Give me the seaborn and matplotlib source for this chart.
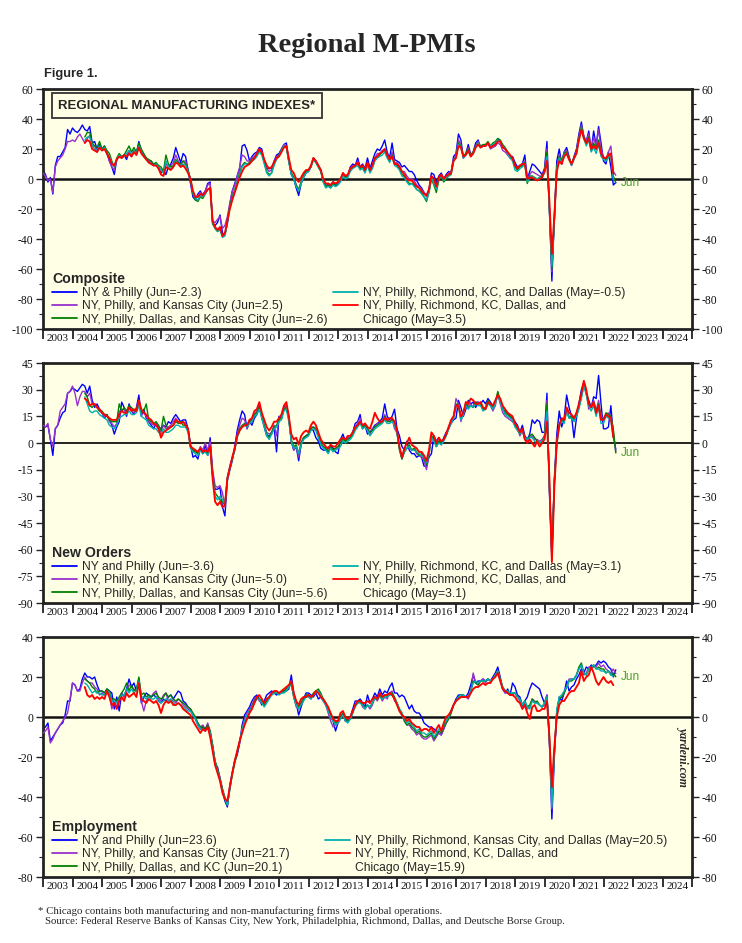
import numpy as np
import pandas as pd
import matplotlib
matplotlib.use("Agg")
import matplotlib.pyplot as plt
import seaborn as sns
from matplotlib.lines import Line2D
from matplotlib.ticker import MultipleLocator, FixedLocator, FixedFormatter

# ---------------- DATA (monthly) ----------------
# series 1/2 start Jan 2003, series 3 start Jun 2004 (end Jun 2022), series 4/5 start Jun 2004 (end May 2022)
SERIES_NAMES = ["NY & Philly", "NY, Philly, KC", "NY, Philly, Dallas, KC",
                "NY, Philly, Richmond, KC, Dallas", "NY, Philly, Richmond, KC, Dallas, Chicago"]
SERIES_COLORS = ["#0000ff", "#9932cc", "#008000", "#00b0b0", "#ff0000"]
START = [(2003, 1), (2003, 1), (2004, 6), (2004, 6), (2004, 6)]

comp_blue = [
    6, 3, -2, 1, -10, 9, 15, 15, 18, 21, 33, 30,
    34, 32, 31, 33, 36, 33, 32, 35, 24, 25, 20, 23,
    20, 22, 17, 12, 8, 3, 13, 16, 14, 16, 13, 18,
    15, 19, 17, 25, 18, 16, 14, 12, 12, 9, 10, 7,
    4, 6, 3, 8, 10, 14, 21, 16, 11, 17, 15, 6,
    -3, -12, -14, -10, -8, -11, -8, -3, -2, -30, -31, -29,
    -24, -36, -37, -30, -17, -8, -3, 2, 7, 22, 23, 19,
    12, 15, 17, 18, 21, 20, 12, 7, 7, 7, 12, 16,
    17, 20, 23, 24, 12, 3, 0, -6, -11, -3, 1, 4,
    5, 8, 14, 12, 9, 6, -1, -5, -3, -4, -2, -5,
    -3, -1, 4, 2, 2, 8, 10, 9, 14, 8, 10, 7,
    14, 7, 12, 17, 20, 19, 22, 26, 18, 14, 24, 13,
    12, 11, 8, 9, 7, 5, 5, 3, -1, -4, -6, -9,
    -11, -7, 4, 3, -3, 2, 4, 0, 3, 5, 4, 15,
    17, 30, 26, 14, 17, 23, 16, 18, 24, 26, 21, 22,
    22, 24, 21, 23, 22, 27, 25, 22, 20, 17, 14, 15,
    11, 8, 9, 10, 16, 0, 5, 10, 9, 7, 5, 3,
    7, 25, -20, -68, -25, 12, 20, 10, 18, 21, 15, 9,
    15, 20, 30, 38, 28, 25, 32, 19, 32, 22, 35, 24,
    12, 10, 18, 8, -4, -2.3,
]
comp_purple = [
    4, 2, -1, 0, -9, 8, 12, 14, 16, 20, 25, 25,
    26, 25, 28, 30, 27, 24, 27, 29, 22, 22, 18, 21,
    19, 21, 18, 12, 8, 6, 13, 16, 14, 16, 15, 19,
    16, 19, 17, 23, 18, 16, 13, 12, 11, 9, 10, 8,
    6, 5, 10, 8, 9, 11, 16, 12, 9, 12, 12, 6,
    -2, -10, -12, -11, -9, -10, -8, -4, -3, -28, -29, -27,
    -25, -33, -31, -25, -16, -8, -4, 2, 8, 16, 15, 12,
    12, 14, 15, 17, 20, 18, 12, 7, 5, 6, 11, 15,
    16, 19, 23, 22, 12, 4, 1, -4, -8, -2, 2, 5,
    6, 9, 14, 12, 9, 6, -1, -4, -4, -5, -3, -4,
    -3, -1, 3, 1, 2, 7, 9, 9, 12, 7, 9, 6,
    11, 6, 9, 14, 17, 17, 19, 20, 17, 13, 18, 11,
    11, 9, 5, 5, 2, 0, 0, -1, -4, -5, -7, -9,
    -12, -8, 2, 0, -5, 0, 3, 0, 2, 4, 4, 13,
    16, 26, 23, 14, 17, 21, 15, 18, 22, 25, 21, 22,
    22, 24, 20, 21, 22, 24, 23, 19, 18, 16, 14, 13,
    9, 7, 9, 10, 12, 0, 3, 5, 4, 3, 2, 2,
    6, 20, -22, -62, -28, 8, 16, 12, 18, 19, 14, 10,
    14, 19, 28, 36, 29, 25, 30, 19, 28, 22, 33, 20,
    15, 13, 18, 22, 5, 2.5,
]
comp_green = [
    28, 31, 31, 24, 22, 21, 25,
    20, 22, 19, 17, 12, 8, 14, 17, 15, 16, 19, 22,
    18, 21, 18, 24, 20, 17, 14, 13, 12, 10, 11, 9,
    8, 5, 16, 10, 8, 9, 13, 11, 10, 12, 10, 6,
    0, -10, -14, -15, -12, -13, -10, -7, -6, -30, -33, -35,
    -33, -38, -37, -28, -18, -12, -7, -2, 4, 9, 11, 10,
    11, 13, 14, 16, 19, 17, 11, 5, 3, 4, 10, 14,
    16, 19, 22, 21, 12, 4, 1, -4, -7, -2, 2, 5,
    6, 8, 13, 11, 8, 5, -2, -5, -4, -6, -3, -4,
    -2, 0, 3, 1, 2, 6, 8, 9, 10, 7, 8, 5,
    10, 5, 8, 13, 15, 16, 18, 19, 15, 12, 16, 10,
    9, 7, 3, 2, -1, -3, -3, -4, -7, -8, -9, -12,
    -15, -9, 0, -4, -9, -1, 2, -2, 0, 2, 3, 12,
    15, 24, 22, 15, 17, 20, 16, 18, 22, 24, 22, 23,
    23, 25, 22, 24, 25, 27, 26, 23, 21, 18, 15, 13,
    8, 6, 8, 9, 11, -3, 2, 2, 1, 0, 1, 2,
    5, 18, -20, -60, -28, 8, 15, 12, 17, 18, 14, 10,
    14, 18, 27, 35, 28, 24, 28, 19, 24, 20, 26, 17,
    14, 13, 15, 17, 2, -2.6,
]
comp_cyan = [
    26, 28, 28, 22, 20, 19, 22,
    19, 21, 17, 15, 11, 8, 13, 16, 14, 15, 17, 19,
    16, 19, 17, 22, 18, 15, 13, 11, 10, 9, 10, 8,
    6, 4, 12, 8, 7, 8, 12, 10, 9, 10, 9, 5,
    0, -9, -13, -14, -11, -12, -10, -7, -6, -29, -33, -35,
    -34, -39, -38, -29, -19, -13, -8, -3, 3, 8, 10, 10,
    10, 12, 13, 15, 18, 16, 10, 4, 2, 4, 9, 13,
    15, 19, 22, 21, 11, 3, 0, -5, -8, -3, 1, 4,
    5, 8, 13, 11, 8, 5, -2, -6, -5, -6, -4, -5,
    -4, -2, 2, 0, 1, 5, 7, 8, 9, 6, 7, 4,
    9, 4, 7, 12, 14, 15, 16, 18, 14, 11, 15, 9,
    8, 6, 2, 1, -2, -4, -3, -5, -7, -8, -10, -12,
    -14, -9, 1, -3, -7, 0, 2, -1, 1, 2, 4, 12,
    15, 23, 21, 14, 16, 19, 15, 17, 21, 24, 21, 22,
    22, 24, 22, 23, 24, 26, 25, 22, 20, 17, 14, 12,
    6, 5, 7, 8, 10, -2, 1, 2, 1, 0, 1, 1,
    4, 15, -20, -58, -28, 7, 14, 11, 16, 17, 13, 9,
    13, 17, 26, 34, 27, 22, 26, 18, 21, 17, 23, 15,
    13, 12, 14, 16, -0.5,
]
comp_red = [
    24, 26, 25, 20, 19, 18, 21,
    19, 20, 17, 14, 10, 9, 13, 15, 14, 16, 15, 17,
    15, 18, 16, 21, 17, 15, 13, 11, 10, 9, 9, 7,
    3, 2, 8, 7, 6, 8, 11, 10, 8, 9, 7, 4,
    0, -8, -12, -12, -10, -11, -9, -7, -6, -28, -32, -34,
    -32, -38, -36, -28, -20, -14, -9, -4, 1, 5, 8, 9,
    10, 12, 14, 17, 20, 18, 13, 9, 7, 8, 11, 14,
    15, 18, 21, 22, 14, 6, 4, 0, -2, 1, 4, 6,
    6, 9, 14, 12, 9, 6, 0, -3, -3, -4, -2, -3,
    -2, 0, 4, 2, 3, 7, 8, 9, 11, 8, 9, 6,
    11, 6, 9, 14, 15, 17, 18, 20, 16, 13, 15, 10,
    10, 8, 5, 3, 0, -1, -1, -3, -5, -6, -8, -10,
    -11, -7, 2, 0, -5, 1, 3, 0, 2, 3, 4, 12,
    14, 22, 21, 15, 16, 19, 15, 17, 21, 23, 21, 22,
    22, 24, 21, 22, 23, 25, 25, 21, 20, 18, 16, 14,
    9, 7, 9, 10, 10, 0, 1, 1, 0, -1, 0, 1,
    5, 12, -15, -50, -25, 5, 12, 10, 15, 17, 13, 10,
    14, 17, 26, 33, 27, 24, 27, 20, 22, 20, 24, 17,
    14, 14, 16, 17, 3.5,
]

no_blue = [
    10, 9, 10, 2, -7, 8, 10, 14, 17, 18, 28, 29,
    31, 30, 29, 31, 33, 32, 28, 32, 24, 20, 22, 19,
    17, 14, 16, 13, 10, 5, 9, 12, 23, 20, 15, 22,
    18, 16, 20, 27, 15, 19, 14, 12, 10, 8, 11, 9,
    8, 10, 9, 12, 11, 14, 16, 14, 12, 13, 13, 8,
    -1, -8, -7, -9, -3, -6, -1, -7, 3, -17, -26, -26,
    -25, -36, -41, -21, -15, -10, -2, 7, 13, 18, 16, 8,
    12, 10, 14, 16, 21, 14, 9, 4, 4, 5, 9, -5,
    15, 14, 20, 21, 15, 1, -4, -2, -10, -1, 3, 4,
    5, 8, 7, 3, 1, -3, -4, -4, -3, -1, -3, -5,
    -6, 2, 5, 1, 3, 3, 6, 11, 12, 16, 8, 10,
    5, 6, 8, 10, 11, 12, 14, 22, 15, 13, 15, 19,
    8, 4, -2, -4, 1, -4, -6, -6, -8, -7, -8, -13,
    -13, -8, -6, 4, 1, 3, -1, 3, 6, 8, 11, 13,
    14, 24, 20, 15, 19, 24, 22, 23, 20, 23, 22, 24,
    22, 25, 23, 21, 23, 27, 23, 19, 18, 17, 15, 14,
    12, 10, 6, 10, 4, 2, 5, 13, 11, 13, 12, 6,
    6, 28, -28, -65, -20, 5, 18, 9, 14, 27, 20, 15,
    3, 14, 22, 30, 34, 28, 24, 20, 26, 25, 38, 22,
    8, 8, 9, 21, 4, -3.6,
]
no_purple = [
    10, 9, 11, 2, -2, 8, 10, 18, 20, 22, 28, 29,
    32, 28, 21, 26, 29, 29, 26, 28, 22, 21, 20, 18,
    17, 15, 16, 12, 11, 9, 11, 18, 18, 19, 17, 20,
    18, 17, 19, 24, 16, 17, 15, 12, 11, 10, 11, 8,
    6, 10, 8, 9, 10, 12, 14, 12, 11, 12, 11, 7,
    -1, -5, -4, -6, -2, -4, 0, -4, 1, -15, -24, -25,
    -24, -28, -36, -19, -13, -8, -3, 5, 10, 14, 13, 8,
    12, 13, 16, 18, 20, 15, 10, 6, 5, 6, 10, 4,
    14, 14, 19, 21, 14, 1, -4, -2, -8, 0, 3, 4,
    5, 9, 9, 8, 4, 0, -2, -3, -5, -2, -4, -3,
    -3, 1, 3, 1, 3, 3, 6, 9, 11, 14, 8, 10,
    8, 5, 8, 9, 11, 11, 12, 16, 13, 12, 14, 8,
    6, -3, -9, -5, -3, -2, -4, -3, -6, -7, -8, -10,
    -15, -7, 4, 2, -2, 1, 0, 2, 5, 9, 12, 15,
    25, 22, 12, 17, 23, 21, 22, 20, 23, 23, 22, 19,
    19, 23, 21, 18, 21, 28, 22, 17, 15, 14, 13, 12,
    10, 8, 4, 7, 2, 1, 3, 4, 2, 2, 1, 2,
    4, 24, -26, -63, -22, 2, 11, 13, 13, 19, 15, 15,
    13, 17, 21, 27, 34, 28, 19, 21, 24, 18, 24, 15,
    14, 16, 17, 15, 6, -5.0,
]
no_green = [
    28, 26, 21, 20, 22, 20, 18,
    18, 16, 16, 13, 12, 12, 12, 22, 18, 20, 18, 21,
    20, 18, 19, 23, 17, 18, 22, 13, 12, 11, 12, 10,
    7, 15, 10, 8, 9, 10, 12, 11, 12, 10, 10, 8,
    -2, -4, -5, -6, -3, -6, -4, -6, -2, -18, -28, -30,
    -32, -33, -35, -20, -14, -9, -4, 4, 8, 10, 11, 9,
    12, 13, 16, 17, 20, 15, 10, 5, 3, 6, 9, 10,
    13, 14, 19, 20, 13, 2, -2, -1, -6, 0, 3, 4,
    5, 8, 9, 8, 4, 0, -2, -3, -5, -2, -4, -3,
    -2, 0, 2, 1, 2, 3, 5, 8, 10, 12, 9, 10,
    8, 6, 7, 9, 10, 11, 12, 15, 12, 12, 13, 12,
    6, -4, -9, -5, -3, -1, -4, -3, -5, -7, -6, -9,
    -12, -6, 4, 2, -2, 1, 0, 2, 4, 8, 12, 14,
    22, 21, 14, 17, 22, 20, 21, 20, 23, 22, 22, 19,
    20, 24, 22, 20, 23, 29, 24, 20, 17, 16, 15, 13,
    10, 8, 5, 8, 3, 2, 4, 5, 3, 1, 0, 1,
    4, 22, -25, -62, -22, 0, 10, 13, 12, 18, 14, 15,
    13, 16, 20, 26, 33, 28, 22, 20, 23, 18, 22, 14,
    13, 17, 16, 15, 8, -5.6,
]
no_cyan = [
    26, 22, 18, 17, 18, 18, 16,
    15, 14, 13, 10, 9, 8, 10, 14, 15, 16, 16, 18,
    16, 16, 17, 21, 15, 14, 13, 10, 9, 8, 8, 6,
    5, 8, 6, 6, 7, 8, 10, 10, 9, 9, 9, 6,
    -3, -5, -6, -7, -4, -6, -5, -7, -3, -19, -30, -32,
    -30, -32, -34, -21, -15, -9, -4, 3, 7, 9, 10, 9,
    11, 12, 15, 16, 19, 14, 9, 4, 2, 5, 8, 9,
    12, 13, 18, 19, 12, 1, -3, -2, -6, -1, 2, 3,
    4, 7, 8, 7, 3, -1, -3, -4, -6, -3, -5, -4,
    -3, -2, 1, 0, 1, 2, 4, 7, 9, 11, 8, 9,
    7, 4, 6, 8, 9, 10, 11, 13, 11, 11, 12, 10,
    5, -3, -8, -5, -3, -2, -4, -4, -5, -6, -7, -8,
    -11, -6, 3, 1, -2, 0, -1, 1, 4, 8, 11, 14,
    21, 20, 13, 16, 21, 19, 21, 20, 22, 21, 21, 18,
    19, 22, 21, 19, 22, 27, 23, 19, 16, 15, 14, 13,
    9, 7, 5, 7, 3, 2, 3, 3, 1, 0, 0, 1,
    3, 18, -22, -66, -23, 0, 9, 12, 11, 18, 14, 14,
    12, 15, 19, 25, 32, 27, 21, 18, 21, 15, 20, 11,
    11, 15, 14, 13, 3.1,
]
no_red = [
    25, 24, 21, 22, 22, 20, 19,
    17, 16, 15, 14, 13, 13, 13, 16, 18, 17, 17, 20,
    18, 19, 18, 24, 19, 17, 16, 14, 13, 11, 10, 8,
    3, 6, 7, 8, 9, 10, 13, 12, 11, 12, 10, 8,
    -2, -3, -4, -5, -3, -5, -4, -5, -2, -20, -33, -35,
    -33, -36, -35, -20, -14, -8, -3, 4, 7, 9, 10, 10,
    13, 14, 18, 19, 23, 17, 13, 9, 7, 9, 12, 12,
    14, 16, 21, 23, 15, 5, 2, 3, -1, 4, 6, 7,
    6, 10, 12, 10, 6, 2, 0, -2, -3, -1, -2, -2,
    0, 2, 3, 2, 4, 4, 6, 9, 10, 12, 10, 11,
    9, 8, 12, 17, 14, 12, 12, 14, 13, 14, 14, 12,
    7, -2, -8, -3, 0, 3, -1, -2, -3, -5, -5, -7,
    -10, -4, 6, 4, 0, 3, 1, 2, 5, 9, 13, 15,
    21, 21, 15, 17, 23, 22, 25, 24, 22, 22, 23, 20,
    19, 23, 22, 21, 24, 27, 25, 21, 19, 17, 16, 15,
    11, 9, 6, 8, 2, 0, 2, 0, -2, 1, -2, 0,
    2, 12, -20, -67, -25, 0, 10, 14, 13, 20, 17, 16,
    14, 17, 22, 28, 35, 30, 22, 20, 23, 17, 21, 13,
    13, 16, 15, 14, 3.1,
]

emp_blue = [
    -6, -5, -3, -12, -10, -8, -6, -4, -3, 1, 8, 8,
    17, 16, 13, 14, 19, 22, 20, 20, 19, 20, 16, 13,
    13, 12, 14, 13, 12, 4, 10, 3, 12, 10, 14, 19,
    15, 17, 13, 19, 7, 10, 12, 11, 10, 11, 10, 8,
    7, 9, 8, 10, 11, 9, 11, 13, 12, 8, 7, 5,
    4, 1, -1, -4, -6, -5, -7, -4, -8, -15, -24, -25,
    -31, -37, -42, -45, -34, -28, -22, -19, -13, -4, 1, 3,
    5, 8, 10, 11, 9, 6, 8, 11, 12, 13, 12, 11,
    12, 12, 13, 13, 14, 21, 12, 7, 1, 5, 9, 12,
    12, 11, 10, 12, 9, 10, 8, 7, 3, 0, -2, -7,
    -3, 0, 2, -2, -1, 0, 4, 8, 8, 9, 7, 5,
    11, 7, 9, 12, 10, 14, 11, 13, 12, 15, 17, 12,
    12, 10, 11, 10, 7, 4, 6, 3, 2, 2, 0, -3,
    -4, -5, -5, -6, -7, -8, -9, -6, -3, 0, 3, 6,
    9, 11, 11, 10, 10, 12, 16, 21, 17, 18, 18, 19,
    18, 19, 18, 20, 22, 25, 20, 14, 12, 14, 11, 17,
    15, 11, 10, 6, 8, 10, 14, 17, 16, 15, 14, 10,
    7, 11, -12, -51, -20, 2, 10, 8, 12, 18, 13, 15,
    16, 19, 21, 24, 22, 25, 24, 26, 25, 26, 28, 27,
    28, 27, 25, 24, 20, 23.6,
]
emp_purple = [
    -8, -7, -5, -13, -11, -8, -6, -4, -2, 0, 2, 9,
    17, 16, 13, 13, 17, 20, 18, 17, 17, 15, 14, 11,
    12, 11, 13, 11, 4, 8, 5, 9, 12, 10, 13, 16,
    15, 14, 13, 19, 8, 3, 8, 10, 10, 12, 13, 9,
    8, 11, 12, 8, 9, 8, 7, 9, 8, 6, 5, 4,
    3, 1, -1, -3, -5, -4, -6, -3, -7, -14, -22, -26,
    -30, -36, -40, -44, -35, -28, -22, -18, -13, -6, -1, 2,
    4, 6, 9, 10, 8, 7, 6, 8, 10, 12, 12, 12,
    12, 12, 13, 14, 15, 17, 10, 5, 4, 7, 9, 11,
    10, 9, 11, 12, 13, 11, 8, 6, 2, -2, -5, -4,
    -3, -1, 1, -2, -2, -1, 2, 6, 7, 8, 5, 4,
    6, 4, 6, 10, 8, 11, 8, 10, 9, 12, 13, 8,
    7, 3, 1, -2, -4, -4, -6, -7, -9, -8, -10, -11,
    -11, -10, -9, -12, -10, -8, -9, -6, -3, -1, 2, 6,
    8, 10, 11, 11, 10, 9, 12, 22, 17, 16, 18, 19,
    17, 19, 18, 19, 21, 23, 18, 14, 12, 12, 11, 11,
    12, 10, 8, 5, 7, 4, 5, 9, 8, 7, 6, 5,
    6, 11, -13, -46, -18, 2, 9, 10, 12, 15, 19, 19,
    19, 21, 24, 26, 21, 22, 25, 24, 26, 25, 27, 25,
    26, 24, 23, 22, 24, 21.7,
]
emp_green = [
    19, 18, 17, 15, 14, 12, 13,
    13, 12, 14, 13, 9, 9, 8, 10, 12, 14, 17, 13,
    16, 13, 14, 20, 11, 12, 10, 11, 10, 11, 12, 10,
    9, 10, 12, 10, 11, 9, 8, 9, 8, 7, 6, 5,
    4, 2, 0, -3, -5, -5, -6, -4, -7, -14, -22, -26,
    -31, -36, -41, -44, -36, -29, -23, -18, -12, -7, -3, 0,
    3, 5, 8, 10, 9, 8, 6, 8, 10, 11, 12, 12,
    12, 12, 13, 14, 15, 17, 10, 6, 5, 7, 9, 11,
    11, 10, 12, 13, 14, 12, 9, 7, 4, 1, -2, -3,
    -2, 0, 2, -1, -2, -1, 3, 6, 7, 8, 6, 5,
    6, 5, 7, 10, 9, 11, 9, 11, 10, 12, 12, 10,
    7, 4, 2, -2, -4, -3, -5, -6, -8, -7, -9, -10,
    -10, -9, -8, -11, -9, -7, -8, -5, -3, -1, 2, 6,
    8, 10, 11, 11, 10, 10, 13, 18, 17, 16, 18, 18,
    18, 19, 18, 19, 21, 23, 19, 15, 13, 13, 11, 12,
    12, 10, 9, 6, 8, 5, 6, 9, 7, 8, 6, 5,
    7, 10, -10, -40, -18, 3, 9, 10, 12, 15, 18, 18,
    19, 21, 25, 27, 22, 21, 24, 25, 26, 24, 25, 24,
    24, 22, 23, 21, 22, 20.1,
]
emp_cyan = [
    17, 16, 14, 12, 13, 12, 12,
    11, 11, 13, 12, 8, 8, 7, 9, 11, 11, 14, 12,
    14, 12, 13, 18, 10, 10, 9, 10, 9, 9, 10, 8,
    7, 8, 9, 8, 9, 7, 6, 7, 6, 5, 4, 3,
    3, 1, -1, -4, -6, -6, -7, -5, -8, -15, -23, -27,
    -31, -37, -41, -44, -36, -28, -22, -17, -12, -6, -2, 1,
    3, 5, 7, 9, 9, 7, 5, 7, 9, 11, 12, 12,
    11, 12, 12, 13, 15, 16, 10, 6, 4, 6, 8, 10,
    10, 9, 11, 12, 13, 11, 8, 6, 3, 0, -2, -4,
    -3, -1, 1, -2, -3, -1, 2, 5, 7, 7, 6, 4,
    6, 5, 7, 9, 9, 10, 9, 10, 10, 11, 11, 9,
    7, 4, 2, -1, -3, -2, -4, -5, -7, -6, -8, -8,
    -9, -8, -7, -10, -8, -6, -7, -4, -2, 0, 3, 6,
    8, 10, 11, 11, 10, 10, 13, 17, 18, 17, 18, 18,
    18, 19, 18, 19, 21, 23, 19, 15, 13, 13, 12, 12,
    12, 10, 9, 6, 8, 5, 4, 8, 7, 7, 6, 5,
    7, 10, -12, -45, -18, 4, 10, 11, 13, 15, 18, 19,
    19, 21, 24, 26, 22, 21, 24, 25, 26, 24, 24, 23,
    23, 22, 23, 21, 20.5,
]
emp_red = [
    15, 11, 10, 11, 9, 10, 9,
    10, 9, 13, 10, 6, 7, 4, 8, 10, 8, 12, 10,
    11, 12, 10, 17, 9, 8, 7, 9, 8, 7, 8, 6,
    2, 6, 8, 7, 8, 6, 6, 7, 6, 4, 3, 2,
    1, -2, -4, -6, -8, -6, -7, -5, -10, -17, -24, -28,
    -32, -38, -41, -42, -35, -28, -22, -17, -12, -8, -4, -1,
    2, 4, 7, 10, 11, 9, 7, 9, 10, 12, 13, 13,
    12, 13, 14, 15, 16, 18, 12, 8, 6, 9, 10, 10,
    11, 10, 11, 13, 12, 10, 9, 7, 5, 2, -1, -2,
    -2, 2, 3, 0, -1, 0, 3, 6, 8, 8, 7, 7,
    8, 7, 9, 10, 9, 12, 10, 11, 11, 12, 11, 9,
    6, 3, 1, 0, -2, -1, -3, -4, -5, -5, -7, -6,
    -6, -7, -5, -8, -6, -4, -7, -3, 0, 1, 3, 6,
    8, 9, 10, 10, 10, 10, 12, 14, 15, 15, 16, 17,
    16, 17, 17, 19, 20, 22, 18, 14, 13, 12, 11, 11,
    10, 8, 7, 4, 6, 2, -1, 5, 6, 3, 3, 4,
    4, 8, -10, -35, -15, 0, 6, 8, 8, 10, 12, 13,
    13, 15, 17, 23, 18, 20, 21, 25, 22, 18, 16, 18,
    20, 18, 17, 18, 15.9,
]

YEARS = list(range(2003, 2025))

COMP_LABELS = ["NY & Philly (Jun=-2.3)", "NY, Philly, and Kansas City (Jun=2.5)",
               "NY, Philly, Dallas, and Kansas City (Jun=-2.6)",
               "NY, Philly, Richmond, KC, and Dallas (May=-0.5)",
               "NY, Philly, Richmond, KC, Dallas, and", "Chicago (May=3.5)"]
NO_LABELS = ["NY and Philly (Jun=-3.6)", "NY, Philly, and Kansas City (Jun=-5.0)",
             "NY, Philly, Dallas, and Kansas City (Jun=-5.6)",
             "NY, Philly, Richmond, KC, and Dallas (May=3.1)",
             "NY, Philly, Richmond, KC, Dallas, and", "Chicago (May=3.1)"]
EMP_LABELS = ["NY and Philly (Jun=23.6)", "NY, Philly, and Kansas City (Jun=21.7)",
              "NY, Philly, Dallas, and KC (Jun=20.1)",
              "NY, Philly, Richmond, Kansas City, and Dallas (May=20.5)",
              "NY, Philly, Richmond, KC, Dallas, and", "Chicago (May=15.9)"]

# ---------------- STYLE ----------------
sns.set_theme(style="white")
plt.rcParams["font.family"] = ["Liberation Sans", "DejaVu Sans"]
plt.rcParams["axes.unicode_minus"] = False
SERIF = ["Liberation Serif", "DejaVu Serif"]
BG = "#ffffe6"
JUN_COLOR = "#4a9e2f"
LEG_FS = 8.7


def make_frame(values_list):
    frames = []
    for name, vals, (y0, m0) in zip(SERIES_NAMES, values_list, START):
        dates = pd.date_range(f"{y0}-{m0:02d}-01", periods=len(vals), freq="MS")
        t = dates.year + (dates.month - 1) / 12.0
        frames.append(pd.DataFrame({"t": t, "v": vals, "s": name}))
    return pd.concat(frames, ignore_index=True)


def style_axes(ax, ylo, yhi, major, zero_lw):
    ax.set_facecolor(BG)
    ax.set_xlim(2003, 2025)
    ax.set_ylim(ylo, yhi)
    ax.set_xlabel("")
    ax.set_ylabel("")
    for sp in ax.spines.values():
        sp.set_visible(True)
        sp.set_linewidth(2.0)
        sp.set_color("#222222")
    ax.axhline(0, color="#111111", lw=zero_lw, zorder=1)
    ax.xaxis.set_major_locator(FixedLocator(list(range(2003, 2026))))
    ax.xaxis.set_minor_locator(FixedLocator([y + 0.5 for y in YEARS]))
    ax.xaxis.set_minor_formatter(FixedFormatter([str(y) for y in YEARS]))
    ax.tick_params(axis="x", which="major", bottom=True, length=7.5, width=1.3,
                   direction="out", color="#222222", labelbottom=False)
    ax.tick_params(axis="x", which="minor", bottom=True, length=0, pad=3.5,
                   labelsize=8.0, labelcolor="#111111")
    ax.yaxis.set_major_locator(MultipleLocator(major))
    ax.yaxis.set_minor_locator(MultipleLocator(major / 2))
    ax.tick_params(axis="y", which="both", left=True, right=True, labelleft=True,
                   labelright=True, direction="out", color="#222222")
    ax.tick_params(axis="y", which="major", length=5, width=1.0, labelsize=8.4,
                   pad=2, labelcolor="#111111")
    ax.tick_params(axis="y", which="minor", length=3, width=0.8)
    ax.grid(False)


def add_legends(ax, title, labels, col2_x):
    hs = [Line2D([], [], color=c, lw=1.3) for c in SERIES_COLORS]
    common = dict(frameon=False, fontsize=LEG_FS, handlelength=2.05, handletextpad=0.42,
                  labelspacing=0.1, borderaxespad=0, borderpad=0, loc="lower left")
    leg1 = ax.legend(hs[:3], labels[:3], bbox_to_anchor=(0.0139, 0.014),
                     title=title, alignment="left",
                     title_fontproperties={"weight": "bold", "size": 10.2}, **common)
    ax.add_artist(leg1)
    dummy = Line2D([], [], color="none", lw=0)
    ax.legend([hs[3], hs[4], dummy], labels[3:], bbox_to_anchor=(col2_x, 0.014), **common)


def draw_panel(ax, values_list, ylo, yhi, major, zero_lw, title, labels, col2_x):
    df = make_frame(values_list)
    sns.lineplot(data=df, x="t", y="v", hue="s", hue_order=SERIES_NAMES,
                 palette=SERIES_COLORS, estimator=None, sort=False, legend=False, ax=ax)
    for i, ln in enumerate(ax.get_lines()):
        ln.set_linewidth(1.35 if i == 4 else 1.0)
        ln.set_zorder(2 + i)
    style_axes(ax, ylo, yhi, major, zero_lw)
    add_legends(ax, title, labels, col2_x)
    green = df[df["s"] == SERIES_NAMES[2]]
    ax.text(green["t"].iloc[-1] + 0.17, green["v"].iloc[-1], "Jun", color=JUN_COLOR,
            fontsize=8.5, va="center", ha="left")


fig = plt.figure(figsize=(7.42, 9.43), dpi=100)
W, H = 742.0, 943.0
L, R = 43 / W, 692 / W


def axes_at(top_px, bot_px):
    return fig.add_axes([L, 1 - bot_px / H, R - L, (bot_px - top_px) / H])


ax1 = axes_at(89, 329)
ax2 = axes_at(363, 603)
ax3 = axes_at(637, 877)

draw_panel(ax1, [comp_blue, comp_purple, comp_green, comp_cyan, comp_red],
           -100, 60, 20, 1.8, "Composite", COMP_LABELS, 0.447)
draw_panel(ax2, [no_blue, no_purple, no_green, no_cyan, no_red],
           -90, 45, 15, 1.3, "New Orders", NO_LABELS, 0.447)
draw_panel(ax3, [emp_blue, emp_purple, emp_green, emp_cyan, emp_red],
           -80, 40, 20, 1.8, "Employment", EMP_LABELS, 0.4345)

for ax in (ax1, ax2, ax3):
    for lab in ax.yaxis.get_majorticklabels() + ax.xaxis.get_minorticklabels():
        lab.set_fontfamily(SERIF)

ax1.text(0.0235, 0.955, "REGIONAL MANUFACTURING INDEXES*", transform=ax1.transAxes,
         fontsize=9.5, fontweight="bold", va="top", ha="left", zorder=10,
         bbox=dict(boxstyle="square,pad=0.5", fc=BG, ec="#333333", lw=1.3))

ax3.text(0.986, 0.505, "yardeni.com", transform=ax3.transAxes, rotation=270,
         ha="center", va="center", fontsize=8.5, fontweight="bold", fontstyle="italic",
         family=SERIF)

fig.text(0.495, 1 - 45 / H, "Regional M-PMIs", ha="center", va="center",
         fontsize=20.5, fontweight="bold", family=SERIF)
fig.text(44 / W, 1 - 74 / H, "Figure 1.", ha="left", va="center", fontsize=9.3,
         fontweight="bold")
fig.text(38 / W, 1 - 911 / H,
         "* Chicago contains both manufacturing and non-manufacturing firms with global operations.",
         ha="left", va="center", fontsize=7.75, family=SERIF)
fig.text(45 / W, 1 - 921 / H,
         "Source: Federal Reserve Banks of Kansas City, New York, Philadelphia, Richmond, Dallas, and Deutsche Borse Group.",
         ha="left", va="center", fontsize=7.75, family=SERIF)

fig.savefig("out.png", dpi=100, facecolor="white")
